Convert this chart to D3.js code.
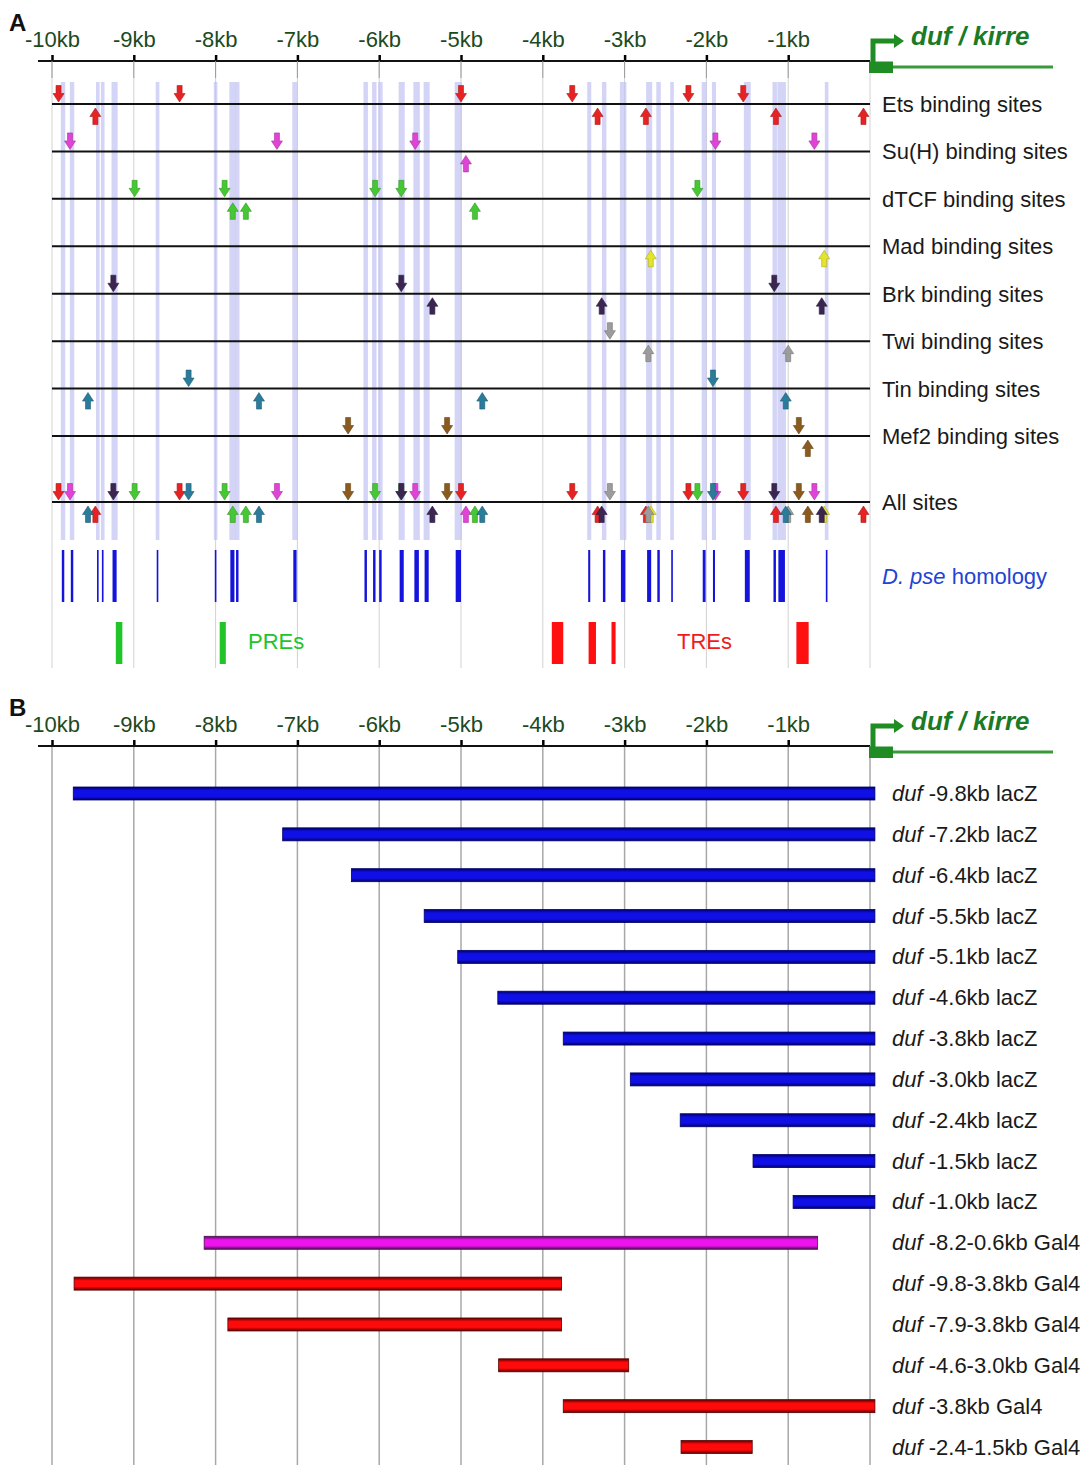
<!DOCTYPE html>
<html>
<head lang="en">
	<meta charset="UTF-8">
	<title>duf / kirre regulatory map</title>
	<style>
	body { margin: 0; background: #fff; }
	text { font-family: "Liberation Sans", Arial, Helvetica, sans-serif; }
	</style>
	<script src="https://d3js.org/d3.v7.min.js"></script>
</head>
<body>
<script>
	// positions are kb upstream of the duf / kirre transcription start
	var kbTicks = [-10, -9, -8, -7, -6, -5, -4, -3, -2, -1];

	var factors = ["Ets", "Su(H)", "dTCF", "Mad", "Brk", "Twi", "Tin", "Mef2"];
	var factorColors = ["#e62222", "#e044d6", "#46c834", "#e4e42a", "#3b2652", "#9c9c9c", "#2a7c9a", "#8a5a1e"];

	// sites drawn above the line (arrow points down)
	var sitesDown = [
		[-9.92, -8.44, -5.00, -3.64, -2.22, -1.55],
		[-9.78, -7.25, -5.56, -1.89, -0.68],
		[-8.99, -7.89, -6.05, -5.73, -2.11],
		[],
		[-9.25, -5.73, -1.17],
		[-3.18],
		[-8.33, -1.92],
		[-6.38, -5.17, -0.87]
	];
	// sites drawn below the line (arrow points up)
	var sitesUp = [
		[-9.47, -3.33, -2.74, -1.15, -0.08],
		[-4.94],
		[-7.79, -7.63, -4.83],
		[-2.68, -0.56],
		[-5.35, -3.28, -0.59],
		[-2.71, -1.00],
		[-9.56, -7.47, -4.74, -1.03],
		[-0.76]
	];

	// D. pseudoobscura conserved blocks [start, end] kb
	var homology = [
		[-9.88, -9.85], [-9.77, -9.74], [-9.45, -9.43], [-9.39, -9.37], [-9.26, -9.21],
		[-8.72, -8.70], [-8.01, -7.99], [-7.82, -7.77], [-7.75, -7.72], [-7.05, -7.01],
		[-6.18, -6.15], [-6.075, -6.045], [-6.00, -5.97], [-5.75, -5.70], [-5.57, -5.515],
		[-5.445, -5.395], [-5.065, -5.00], [-3.445, -3.42], [-3.265, -3.235], [-3.045, -2.99],
		[-2.725, -2.675], [-2.60, -2.57], [-2.43, -2.41], [-2.045, -2.01], [-1.92, -1.895],
		[-1.53, -1.47], [-1.18, -1.15], [-1.12, -1.04], [-0.54, -0.52]
	];

	var pres = [[-9.22, -9.14], [-7.95, -7.875]];
	var tres = [[-3.89, -3.75], [-3.44, -3.35], [-3.16, -3.11], [-0.90, -0.75]];

	// reporter constructs of panel B
	var constructNames = ["-9.8kb lacZ", "-7.2kb lacZ", "-6.4kb lacZ", "-5.5kb lacZ", "-5.1kb lacZ",
		"-4.6kb lacZ", "-3.8kb lacZ", "-3.0kb lacZ", "-2.4kb lacZ", "-1.5kb lacZ", "-1.0kb lacZ",
		"-8.2-0.6kb Gal4", "-9.8-3.8kb Gal4", "-7.9-3.8kb Gal4", "-4.6-3.0kb Gal4", "-3.8kb Gal4", "-2.4-1.5kb Gal4"];
	var constructStart = [-9.74, -7.18, -6.34, -5.45, -5.04, -4.55, -3.75, -2.93, -2.32, -1.43, -0.94,
		-8.14, -9.73, -7.85, -4.54, -3.75, -2.31];
	var constructEnd = [0.06, 0.06, 0.06, 0.06, 0.06, 0.06, 0.06, 0.06, 0.06, 0.06, 0.06,
		-0.64, -3.77, -3.77, -2.95, 0.06, -1.44];
	var constructType = ["lacZ", "lacZ", "lacZ", "lacZ", "lacZ", "lacZ", "lacZ", "lacZ", "lacZ", "lacZ", "lacZ",
		"gal4a", "gal4", "gal4", "gal4", "gal4", "gal4"];

	window.onload = function(){
		var width = 1088, height = 1465;
		var axisA = 61, axisB = 746;

		var svg = d3.select("body").append("svg")
			.attr("width", width)
			.attr("height", height)
			.style("background", "#fff");

		var x = d3.scaleLinear().domain([-10, 0]).range([52, 870]);

		// bar gradients (dark edges, bright core)
		var defs = svg.append("defs");
		var barColors = {
			lacZ: ["#00006a", "#1010e6"],
			gal4a: ["#4a1050", "#ee12ee"],
			gal4: ["#5a0000", "#ff0a0a"]
		};
		Object.keys(barColors).forEach(function(k){
			var gr = defs.append("linearGradient").attr("id", "g-" + k)
				.attr("x1", 0).attr("y1", 0).attr("x2", 0).attr("y2", 1);
			gr.append("stop").attr("offset", "0%").attr("stop-color", barColors[k][0]);
			gr.append("stop").attr("offset", "28%").attr("stop-color", barColors[k][1]);
			gr.append("stop").attr("offset", "72%").attr("stop-color", barColors[k][1]);
			gr.append("stop").attr("offset", "100%").attr("stop-color", barColors[k][0]);
		});

		function header(y, gridBottom, gridColor, gridWidth, letter){
			var g = svg.append("g");
			// grid
			g.selectAll("line.grid")
				.data(kbTicks.concat([0]))
				.enter().append("line")
				.attr("class", "grid")
				.attr("x1", function(d){ return x(d); })
				.attr("x2", function(d){ return x(d); })
				.attr("y1", y)
				.attr("y2", gridBottom)
				.attr("stroke", gridColor)
				.attr("stroke-width", gridWidth);

			var ax = g.append("g")
				.attr("transform", "translate(0," + y + ")")
				.call(d3.axisTop(x).tickValues(kbTicks)
					.tickFormat(function(d){ return d + "kb"; })
					.tickSize(6).tickSizeOuter(0).tickPadding(8));
			ax.select(".domain").remove();
			ax.selectAll(".tick line").attr("stroke", "#000").attr("stroke-width", 2.5);
			ax.selectAll(".tick text")
				.attr("fill", "#1d4a1d")
				.style("font-size", "22px")
				.style("font-family", "'Liberation Sans', Arial, sans-serif");

			g.append("line")
				.attr("x1", 38).attr("x2", x(0))
				.attr("y1", y).attr("y2", y)
				.attr("stroke", "#111").attr("stroke-width", 2);

			// gene model
			var green = "#1f8c24";
			g.append("line")
				.attr("x1", x(0) + 22).attr("x2", 1053)
				.attr("y1", y + 6).attr("y2", y + 6)
				.attr("stroke", "#3a9a3a").attr("stroke-width", 3);
			g.append("rect")
				.attr("x", x(0) - 1).attr("y", y + 0.5)
				.attr("width", 24).attr("height", 11.5)
				.attr("fill", green);
			g.append("path")
				.attr("d", "M" + (x(0) + 3) + "," + (y + 1) + "V" + (y - 20) + "H" + (x(0) + 26))
				.attr("fill", "none").attr("stroke", green).attr("stroke-width", 5);
			g.append("path")
				.attr("d", "M" + (x(0) + 24) + "," + (y - 27) + "L" + (x(0) + 34) + "," + (y - 20) +
					"L" + (x(0) + 24) + "," + (y - 13) + "Z")
				.attr("fill", green);
			g.append("text")
				.attr("x", 911).attr("y", y - 16)
				.attr("fill", "#1a7a26")
				.style("font-size", "26px").style("font-weight", "bold").style("font-style", "italic")
				.text("duf / kirre");

			svg.append("text")
				.attr("x", 9).attr("y", y - 30)
				.style("font-size", "24px").style("font-weight", "bold")
				.attr("fill", "#111")
				.text(letter);
		}

		// ---------------- panel A ----------------
		header(axisA, 668, "#d2d2d2", 1, "A");
		svg.selectAll("line.tickstub")
			.data(kbTicks)
			.enter().append("line")
			.attr("x1", function(d){ return x(d); }).attr("x2", function(d){ return x(d); })
			.attr("y1", axisA).attr("y2", axisA + 17)
			.attr("stroke", "#9a9a9a").attr("stroke-width", 1);

		var track = d3.scalePoint().domain(factors).range([104, 436]);
		var allY = 502;

		// conserved bands across the tracks
		svg.append("g").selectAll("rect")
			.data(homology)
			.enter().append("rect")
			.attr("x", function(d){ return x(d[0]) - 1; })
			.attr("width", function(d){ return x(d[1]) - x(d[0]) + 2; })
			.attr("y", 82).attr("height", 458)
			.attr("fill", "#c2c2f4").attr("opacity", 0.7);

		var lines = factors.map(function(f){ return track(f); }).concat([allY]);
		svg.append("g").selectAll("line")
			.data(lines)
			.enter().append("line")
			.attr("x1", 52).attr("x2", x(0))
			.attr("y1", function(d){ return d; }).attr("y2", function(d){ return d; })
			.attr("stroke", "#111").attr("stroke-width", 2);

		var labels = factors.map(function(f){ return f + " binding sites"; }).concat(["All sites"]);
		svg.append("g").selectAll("text")
			.data(labels)
			.enter().append("text")
			.attr("x", 882)
			.attr("y", function(d, i){ return lines[i] + 8; })
			.attr("fill", "#1a1a1a")
			.style("font-size", "22px")
			.text(function(d){ return d; });

		// arrow: tip at origin, pointing down
		var arrowPath = "M-2.5,-16.5H2.5V-8.5H5.5L0,0L-5.5,-8.5H-2.5Z";
		var sites = [];
		factors.forEach(function(f, i){
			sitesDown[i].forEach(function(kb){ sites.push({kb: kb, up: false, c: factorColors[i], y: track(f)}); });
			sitesUp[i].forEach(function(kb){ sites.push({kb: kb, up: true, c: factorColors[i], y: track(f)}); });
		});
		// "All sites" is the union of every track
		var union = sites.map(function(s){ return {kb: s.kb, up: s.up, c: s.c, y: allY}; });

		svg.append("g").selectAll("path")
			.data(sites.concat(union))
			.enter().append("path")
			.attr("d", arrowPath)
			.attr("transform", function(d){
				return d.up ? "translate(" + x(d.kb) + "," + (d.y + 4) + ")scale(1,-1)"
					: "translate(" + x(d.kb) + "," + (d.y - 2) + ")";
			})
			.attr("fill", function(d){ return d.c; })
			.attr("stroke", function(d){ return d3.color(d.c).darker(0.8); })
			.attr("stroke-width", 0.6);

		// homology blocks
		svg.append("g").selectAll("rect")
			.data(homology)
			.enter().append("rect")
			.attr("x", function(d){ return x(d[0]); })
			.attr("width", function(d){ return Math.max(1.6, x(d[1]) - x(d[0])); })
			.attr("y", 550).attr("height", 52)
			.attr("fill", "#1414dc");

		var hom = svg.append("text").attr("x", 882).attr("y", 584)
			.attr("fill", "#2244d4").style("font-size", "22px");
		hom.append("tspan").style("font-style", "italic").text("D. pse");
		hom.append("tspan").text(" homology");

		svg.append("g").selectAll("rect")
			.data(pres)
			.enter().append("rect")
			.attr("x", function(d){ return x(d[0]); })
			.attr("width", function(d){ return x(d[1]) - x(d[0]); })
			.attr("y", 622).attr("height", 42)
			.attr("fill", "#22c42a");
		svg.append("text").attr("x", 248).attr("y", 649)
			.attr("fill", "#22c42a").style("font-size", "22px").text("PREs");

		svg.append("g").selectAll("rect")
			.data(tres)
			.enter().append("rect")
			.attr("x", function(d){ return x(d[0]); })
			.attr("width", function(d){ return x(d[1]) - x(d[0]); })
			.attr("y", 622).attr("height", 42)
			.attr("fill", "#ff1010");
		svg.append("text").attr("x", 677).attr("y", 649)
			.attr("fill", "#ee1c1c").style("font-size", "22px").text("TREs");

		// ---------------- panel B ----------------
		header(axisB, height, "#a8a8a8", 1.5, "B");

		var row = d3.scalePoint().domain(d3.range(constructNames.length)).range([793.5, 1447]);

		svg.append("g").selectAll("rect")
			.data(constructNames)
			.enter().append("rect")
			.attr("x", function(d, i){ return x(constructStart[i]); })
			.attr("width", function(d, i){ return x(constructEnd[i]) - x(constructStart[i]); })
			.attr("y", function(d, i){ return row(i) - 6.5; })
			.attr("height", 13)
			.attr("fill", function(d, i){ return "url(#g-" + constructType[i] + ")"; })
			.attr("stroke", function(d, i){ return barColors[constructType[i]][0]; })
			.attr("stroke-width", 0.8);

		var rl = svg.append("g").selectAll("text")
			.data(constructNames)
			.enter().append("text")
			.attr("x", 892)
			.attr("y", function(d, i){ return row(i) + 7.5; })
			.attr("fill", "#1a1a1a")
			.style("font-size", "22px");
		rl.append("tspan").style("font-style", "italic").text("duf");
		rl.append("tspan").text(function(d){ return " " + d; });
	};
</script>
</body>
</html>
